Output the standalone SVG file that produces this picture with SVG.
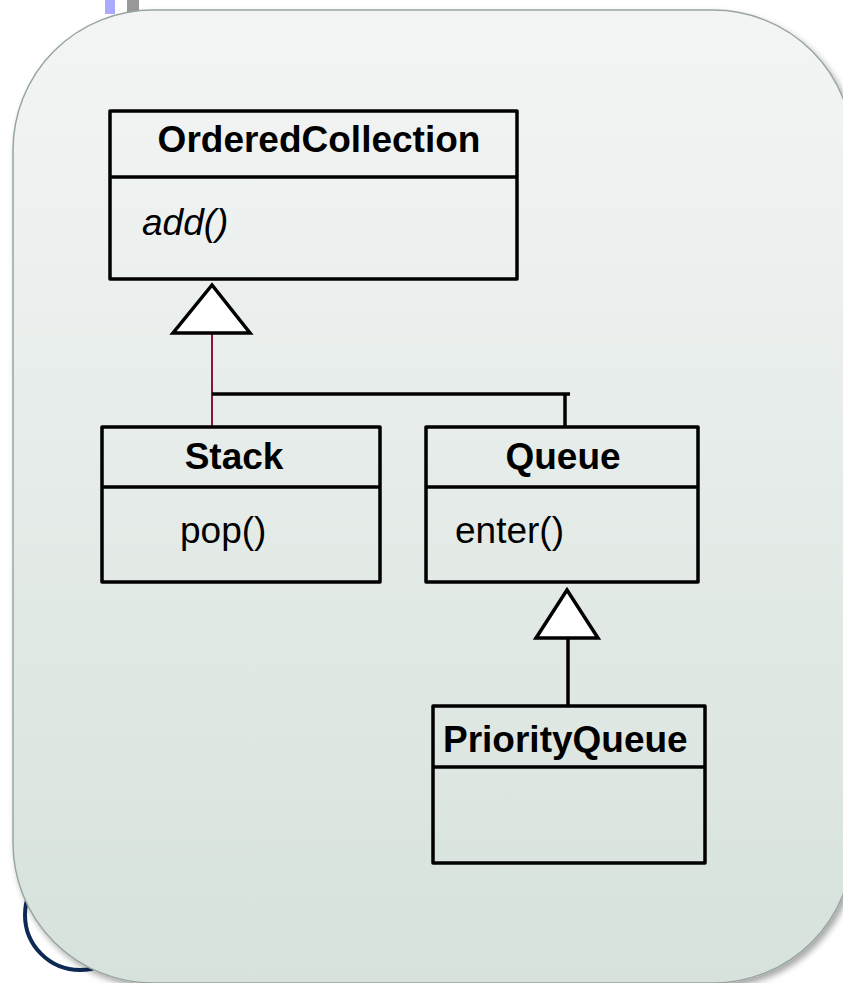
<svg xmlns="http://www.w3.org/2000/svg" width="843" height="983" viewBox="0 0 843 983">
  <defs>
    <linearGradient id="panelFill" x1="0" y1="0" x2="0" y2="1">
      <stop offset="0" stop-color="#f3f5f4"/>
      <stop offset="1" stop-color="#d7e2dc"/>
    </linearGradient>
    <filter id="panelShadow" x="-5%" y="-5%" width="115%" height="115%">
      <feDropShadow dx="3" dy="4" stdDeviation="3" flood-color="#000" flood-opacity="0.35"/>
    </filter>
    <style>
      .box { fill: none; stroke: #000; stroke-width: 3.5; stroke-linejoin: round; }
      .sep { stroke: #000; stroke-width: 3.5; }
      .title { font-family: "Liberation Sans", Arial, sans-serif; font-size: 37px; font-weight: bold; fill: #000; }
      .op { font-family: "Liberation Sans", Arial, sans-serif; font-size: 37px; fill: #000; }
      .head { fill: #fff; stroke: #000; stroke-width: 3.5; stroke-linejoin: miter; }
      .line { stroke: #000; stroke-width: 3.5; fill: none; }
    </style>
  </defs>

  <!-- page background pieces behind the panel -->
  <rect x="105" y="0" width="10" height="14" fill="#aaaaff"/>
  <rect x="127" y="0" width="12" height="14" fill="#999999"/>
  <circle cx="80" cy="915" r="55" fill="none" stroke="#0d2a55" stroke-width="4"/>

  <!-- rounded panel -->
  <rect x="13" y="10" width="840" height="973" rx="140" ry="140" fill="url(#panelFill)" stroke="#98a6a0" stroke-width="1.5" filter="url(#panelShadow)"/>

  <!-- connectors -->
  <g id="connectors">
    <line x1="212" y1="333" x2="212" y2="427" stroke="#8a1446" stroke-width="2"/>
    <polyline class="line" points="212,394 570,394"/>
    <line class="line" x1="565" y1="394" x2="565" y2="427"/>
    <polygon class="head" points="212,285 173,333 250,333"/>
    <line class="line" x1="568" y1="638" x2="568" y2="706"/>
    <polygon class="head" points="567,590 536,638 598,638"/>
  </g>

  <g id="OrderedCollection">
    <rect class="box" x="110" y="111" width="407" height="168"/>
    <line class="sep" x1="110" y1="177" x2="517" y2="177"/>
    <text class="title" x="319" y="152" text-anchor="middle">OrderedCollection</text>
    <text class="op" x="142" y="235" font-style="italic">add()</text>
  </g>

  <g id="Stack">
    <rect class="box" x="102" y="427" width="278" height="155"/>
    <line class="sep" x1="102" y1="487" x2="380" y2="487"/>
    <text class="title" x="234" y="469" text-anchor="middle">Stack</text>
    <text class="op" x="180" y="543">pop()</text>
  </g>

  <g id="Queue">
    <rect class="box" x="426" y="427" width="272" height="155"/>
    <line class="sep" x1="426" y1="487" x2="698" y2="487"/>
    <text class="title" x="563" y="469" text-anchor="middle">Queue</text>
    <text class="op" x="455" y="543">enter()</text>
  </g>

  <g id="PriorityQueue">
    <rect class="box" x="433" y="706" width="272" height="157"/>
    <line class="sep" x1="433" y1="767" x2="705" y2="767"/>
    <text class="title" x="443" y="752">PriorityQueue</text>
  </g>
</svg>
